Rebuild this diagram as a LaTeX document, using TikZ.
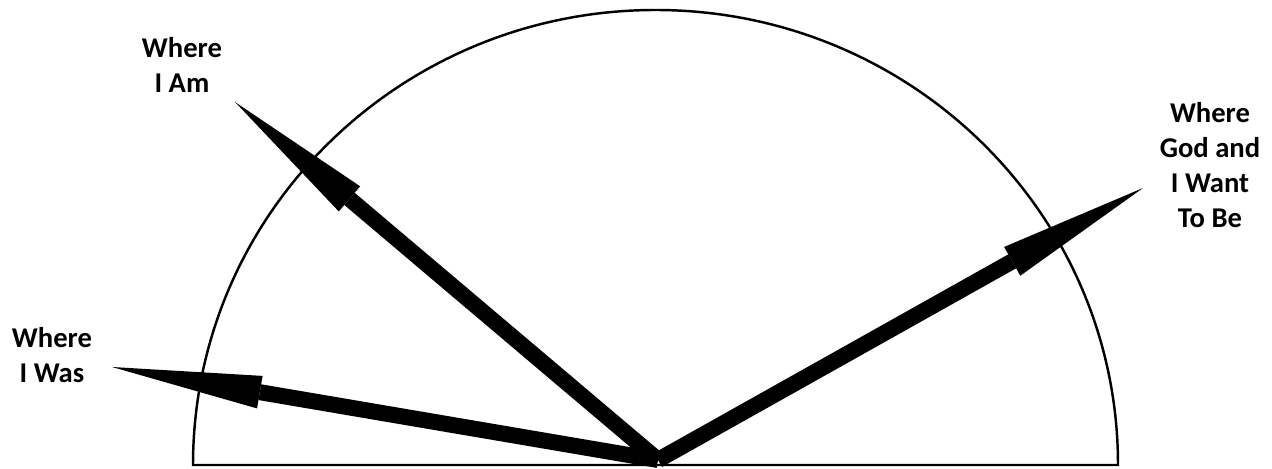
\documentclass[tikz,border=0pt]{standalone}
\usepackage{fontspec}
\setmainfont{Carlito}[BoldFont={Carlito Bold}]
\usepackage{tikz}
\usetikzlibrary{
    arrows.meta,
    positioning
}

\begin{document}
\begin{tikzpicture}[
x=0.02cm, y=0.02cm,
label/.style={
font=\bfseries\fontsize{16.3}{19.9}\selectfont,
align=center,
inner sep=0pt
},
pointer/.style={
line width=0.32cm,
-{Triangle[length={3cm 0 0}, width={0.66cm 0 0}, line width=0pt]}
}
]

\useasboundingbox (0,0) rectangle (1272,469);

% half circle
\draw[line width=1.4pt]
(193,4) arc[start angle=180, end angle=0, x radius=462.5, y radius=455] -- cycle;

\coordinate (origin) at (658,9);
\coordinate (was) at (112,102);
\coordinate (am) at (235,367);
\coordinate (want) at (1143,281);

\node[label] (waslabel) at (52,114) {Where\\I Was};
\node[label] (amlabel) at (182,404) {Where\\I Am};
\node[label] (wantlabel) at (1210,304) {Where\\God and\\I Want\\To Be};

\draw[pointer] (origin) -- (was);
\draw[pointer] (origin) -- (am);
\draw[pointer] (origin) -- (want);

\end{tikzpicture}
\end{document}
